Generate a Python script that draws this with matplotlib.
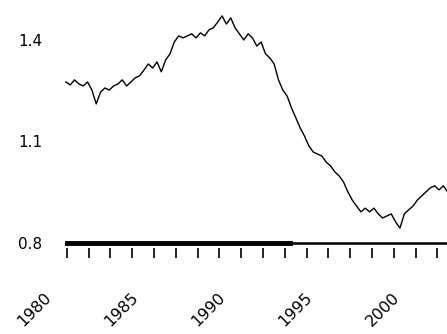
import numpy as np
import matplotlib
matplotlib.use("Agg")
import matplotlib.pyplot as plt
import matplotlib.transforms as mtransforms

# quarterly series
start_year = 1980.75
values = [
    1.276, 1.267, 1.282, 1.270, 1.264, 1.276, 1.252, 1.211, 1.246, 1.258,
    1.252, 1.264, 1.270, 1.282, 1.264, 1.276, 1.288, 1.294, 1.311, 1.329,
    1.317, 1.335, 1.306, 1.341, 1.359, 1.394, 1.412, 1.406, 1.412, 1.418,
    1.406, 1.421, 1.412, 1.430, 1.436, 1.453, 1.471, 1.447, 1.465, 1.436,
    1.418, 1.400, 1.418, 1.406, 1.382, 1.394, 1.359, 1.347, 1.329, 1.282,
    1.252, 1.234, 1.199, 1.170, 1.140, 1.116, 1.087, 1.069, 1.063, 1.057,
    1.039, 1.028, 1.010, 0.998, 0.980, 0.951, 0.927, 0.909, 0.892, 0.903,
    0.892, 0.903, 0.886, 0.874, 0.880, 0.886, 0.862, 0.844, 0.886, 0.898,
    0.909, 0.927, 0.939, 0.951, 0.963, 0.969, 0.957, 0.969, 0.951,
]
years = start_year + 0.25 * np.arange(len(values))

baseline = 0.8
baseline_thick_until = 1993.65

y_ticks = [0.8, 1.1, 1.4]
y_labels = ["0.8", "1.1", "1.4"]
x_labels = ["1980", "1985", "1990", "1995", "2000"]

fig = plt.figure(figsize=(4.47, 3.34), dpi=100)
ax = fig.add_axes([0.145, 0.2275, 0.855, 0.7725])

ax.plot(years, values, color="black", lw=1.0)

xmin, xmax = 1980.69, 2002.71
ax.set_xlim(xmin, xmax)
ax.set_ylim(0.7557, 1.518)

ax.axhline(baseline, color="black", lw=1.8)
ax.axhline(baseline, xmin=0, xmax=(baseline_thick_until - xmin) / (xmax - xmin),
           color="black", lw=3.5)

for s in ax.spines.values():
    s.set_visible(False)

# ticks every ~1.25 years, labels on every fourth
tick_pos = 1980.81 + 1.256 * np.arange(18)
tick_lab = [""] * len(tick_pos)
for i, lab in enumerate(x_labels):
    tick_lab[4 * i] = lab
ax.set_xticks(tick_pos)
ax.set_xticklabels(tick_lab, rotation=45, ha="right", fontsize=11.5)
ax.tick_params(axis="x", direction="in", length=7, width=1.2, pad=23)
offset = mtransforms.ScaledTranslation(-0.13, 0, fig.dpi_scale_trans)
for lbl in ax.get_xticklabels():
    lbl.set_transform(lbl.get_transform() + offset)

ax.set_yticks(y_ticks)
ax.set_yticklabels(y_labels, fontsize=11)
ax.tick_params(axis="y", length=0, pad=16)

fig.savefig("out.png", dpi=100)
